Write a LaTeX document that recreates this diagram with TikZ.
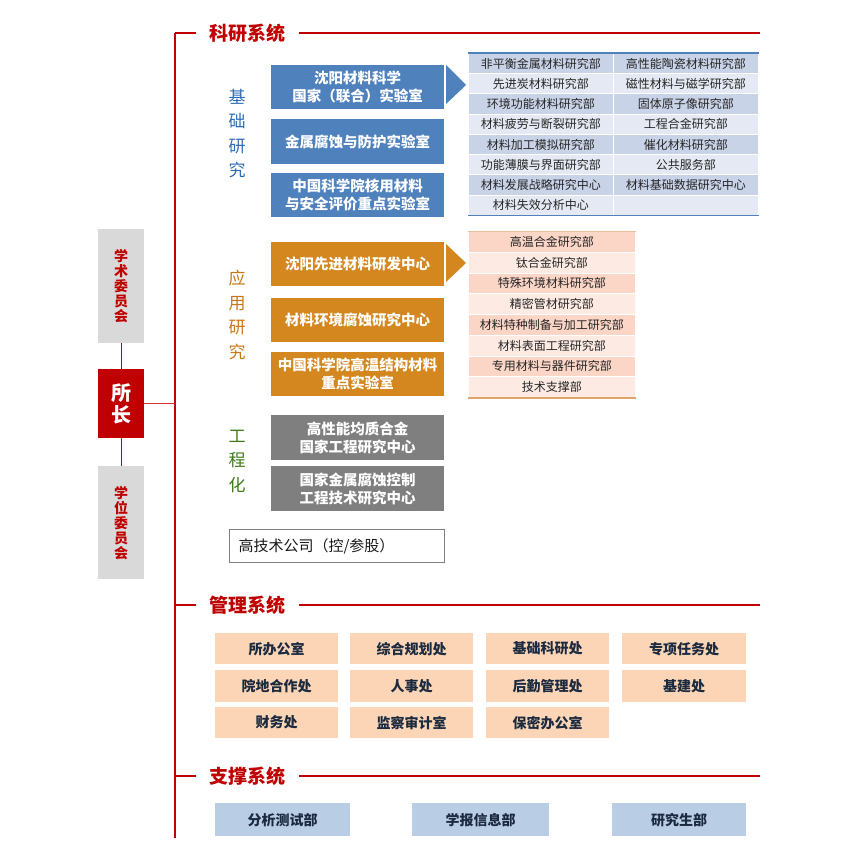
\documentclass[tikz,border=0pt]{standalone}
\usepackage{fontspec}
\setmainfont{Noto Sans CJK SC}
\definecolor{tred}{HTML}{C00000}
\definecolor{bbox}{HTML}{4F81BD}
\definecolor{obox}{HTML}{D4871E}
\definecolor{gbox}{HTML}{7F7F7F}
\definecolor{tbd}{HTML}{C9D3E8}
\definecolor{tbl}{HTML}{E4E9F3}
\definecolor{tod}{HTML}{FBD5C6}
\definecolor{tol}{HTML}{FDEBE3}
\definecolor{tobord}{HTML}{DDA56B}
\definecolor{tbbord}{HTML}{4F81BD}
\definecolor{tabtext}{HTML}{262626}
\definecolor{mfill}{HTML}{FBD5B5}
\definecolor{sfill}{HTML}{B9CDE5}
\definecolor{mtext}{HTML}{1C2A40}
\definecolor{lgray}{HTML}{D9D9D9}
\definecolor{lblue}{HTML}{2F6DB5}
\definecolor{lorange}{HTML}{C8761A}
\definecolor{lgreen}{HTML}{3F7A1A}
\begin{document}
\begin{tikzpicture}[x=1pt,y=-1pt,
  box/.style={anchor=north west, inner sep=0pt, align=center,
    font=\bfseries\fontsize{14.5}{18}\selectfont, text=white,
    minimum width=173pt},
  bluebox/.style={box, fill=bbox},
  orangebox/.style={box, fill=obox},
  graybox/.style={box, fill=gbox},
  cell/.style={anchor=north west, inner sep=0pt, draw=white, line width=0.8pt,
    font=\fontsize{12}{14}\selectfont, text=tabtext},
  mbox/.style={anchor=north west, inner sep=0pt, fill=mfill,
    font=\bfseries\fontsize{14}{16}\selectfont, text=mtext},
  sbox/.style={anchor=north west, inner sep=0pt, fill=sfill,
    minimum height=33pt, font=\bfseries\fontsize{14}{16}\selectfont, text=mtext},
  title/.style={font=\bfseries\fontsize{19}{22}\selectfont, text=tred},
  redline/.style={draw=tred, line width=1.2pt},
  conn/.style={draw=tred!95!black, line width=1pt},
  vlabel/.style={font=\fontsize{17}{24.5}\selectfont, align=center},
  committee/.style={anchor=north west, fill=lgray, minimum width=46pt,
    inner sep=0pt, align=center, text=tred,
    font=\bfseries\fontsize{14}{15}\selectfont}
]
\useasboundingbox (0,0) rectangle (864,861);
\fill[white] (0,0) rectangle (864,861);

% frame
\coordinate (vtop) at (175,33);
\coordinate (vbot) at (175,838);
\draw[redline] (vtop) -- (vbot);
\node[title] (t1) at (247,33) {科研系统};
\node[title] (t2) at (247,605) {管理系统};
\node[title] (t3) at (247,776) {支撑系统};
\coordinate (t1a) at (196,33); \coordinate (t1b) at (299,33); \coordinate (t1c) at (760,33);
\coordinate (t2a) at (196,605); \coordinate (t2b) at (299,605); \coordinate (t2c) at (760,605);
\coordinate (t3a) at (196,776); \coordinate (t3b) at (299,776); \coordinate (t3c) at (760,776);
\draw[redline] (vtop) -- (t1a) (t1b) -- (t1c);
\draw[redline] (vtop |- t2a) -- (t2a) (t2b) -- (t2c);
\draw[redline] (vtop |- t3a) -- (t3a) (t3b) -- (t3c);

% left committees
\node[committee, minimum height=114pt] (xs) at (98,229) {学\\术\\委\\员\\会};
\node[anchor=north west, fill=tred, minimum width=46pt, minimum height=69pt,
  inner sep=0pt, align=center, text=white,
  font=\bfseries\fontsize{20}{22}\selectfont] (sz) at (98,369) {所\\长};
\node[committee, minimum height=113pt] (xw) at (98,466) {学\\位\\委\\员\\会};
\draw[conn] (xs.south) -- (sz.north);
\draw[conn] (sz.south) -- (xw.north);
\draw[draw=tred!80, line width=0.9pt] (sz.east) -- (sz.east -| vtop);

% vertical labels
\node[vlabel, text=lblue] (lab1) at (237,133.5) {基\\础\\研\\究};
\node[vlabel, text=lorange] (lab2) at (237,315) {应\\用\\研\\究};
\node[vlabel, text=lgreen] (lab3) at (237,461) {工\\程\\化};

% basic research
\node[bluebox, minimum height=44pt] (b1) at (271,65) {沈阳材料科学\\国家（联合）实验室};
\node[bluebox, minimum height=45pt] (b2) at (271,119) {金属腐蚀与防护实验室};
\node[bluebox, minimum height=44pt] (b3) at (271,173) {中国科学院核用材料\\与安全评价重点实验室};
\fill[bbox] (446,65) -- (446,104) -- (466,85) -- cycle;

\foreach \a/\b/\cc [count=\i from 0] in {
  非平衡金属材料研究部/高性能陶瓷材料研究部/tbd,
  先进炭材料研究部/磁性材料与磁学研究部/tbl,
  环境功能材料研究部/固体原子像研究部/tbd,
  材料疲劳与断裂研究部/工程合金研究部/tbl,
  材料加工模拟研究部/催化材料研究部/tbd,
  功能薄膜与界面研究部/公共服务部/tbl,
  材料发展战略研究中心/材料基础数据研究中心/tbd,
  材料失效分析中心/{}/tbl}{
  \node[cell, fill=\cc, minimum width=145pt, minimum height=20.25pt] (bl\i) at (468,{53+\i*20.25}) {\a};
  \node[cell, fill=\cc, minimum width=145pt, minimum height=20.25pt] (br\i) at (613,{53+\i*20.25}) {\b};
}
\draw[draw=tbbord, line width=1.2pt] (bl0.north west) -- (br0.north east);
\draw[draw=tbbord, line width=1.2pt] (bl7.south west) -- (br7.south east);

% applied research
\node[orangebox, minimum height=44pt] (o1) at (271,242) {沈阳先进材料研发中心};
\node[orangebox, minimum height=44pt] (o2) at (271,298) {材料环境腐蚀研究中心};
\node[orangebox, minimum height=44pt] (o3) at (271,352) {中国科学院高温结构材料\\重点实验室};
\fill[obox] (446,244) -- (446,282) -- (466,263) -- cycle;

\foreach \a/\cc [count=\i from 0] in {
  高温合金研究部/tod, 钛合金研究部/tol, 特殊环境材料研究部/tod,
  精密管材研究部/tol, 材料特种制备与加工研究部/tod, 材料表面工程研究部/tol,
  专用材料与器件研究部/tod, 技术支撑部/tol}{
  \node[cell, fill=\cc, minimum width=167pt, minimum height=20.75pt] (oc\i) at (468,{231+\i*20.75}) {\a};
}
\draw[draw=tobord!70, line width=1pt] (oc0.north west) -- (oc0.north east);
\draw[draw=tobord, line width=1.6pt] (oc7.south west) -- (oc7.south east);

% engineering
\node[graybox, minimum height=45pt] (g1) at (271,415) {高性能均质合金\\国家工程研究中心};
\node[graybox, minimum height=45pt] (g2) at (271,466) {国家金属腐蚀控制\\工程技术研究中心};
\node[anchor=north west, draw=gbox, line width=1pt, text width=197pt, inner xsep=9pt,
  inner ysep=0pt, minimum height=33pt, align=left, text=black!90,
  font=\fontsize{15}{18}\selectfont] (co) at (229,529) {高技术公司（控/参股）};

% management
\node[mbox, minimum width=123pt, minimum height=31pt] (m11) at (215,633) {所办公室};
\node[mbox, minimum width=123pt, minimum height=31pt] (m12) at (350,633) {综合规划处};
\node[mbox, minimum width=123pt, minimum height=31pt] (m13) at (486,633) {基础科研处};
\node[mbox, minimum width=124pt, minimum height=31pt] (m14) at (622,633) {专项任务处};
\node[mbox, minimum width=123pt, minimum height=32pt] (m21) at (215,670) {院地合作处};
\node[mbox, minimum width=123pt, minimum height=32pt] (m22) at (350,670) {人事处};
\node[mbox, minimum width=123pt, minimum height=32pt] (m23) at (486,670) {后勤管理处};
\node[mbox, minimum width=124pt, minimum height=32pt] (m24) at (622,670) {基建处};
\node[mbox, minimum width=123pt, minimum height=31pt] (m31) at (215,707) {财务处};
\node[mbox, minimum width=123pt, minimum height=31pt] (m32) at (350,707) {监察审计室};
\node[mbox, minimum width=123pt, minimum height=31pt] (m33) at (486,707) {保密办公室};

% support
\node[sbox, minimum width=135pt] (s1) at (215,803) {分析测试部};
\node[sbox, minimum width=137pt] (s2) at (412,803) {学报信息部};
\node[sbox, minimum width=134pt] (s3) at (612,803) {研究生部};
\end{tikzpicture}
\end{document}
